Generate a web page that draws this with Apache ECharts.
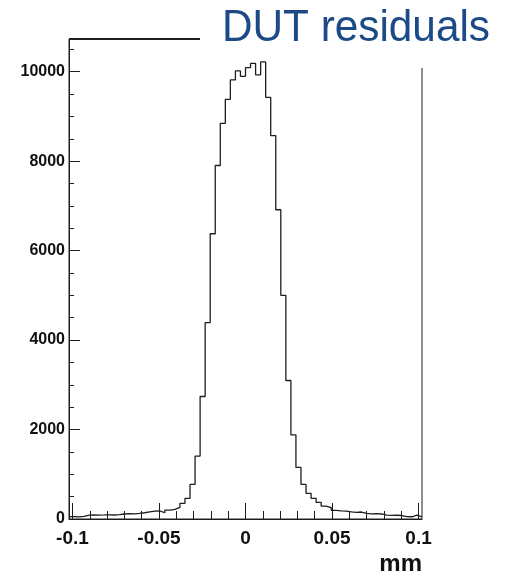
<!DOCTYPE html>
<html>
<head>
<meta charset="utf-8">
<script src="https://cdn.jsdelivr.net/npm/echarts@6/dist/echarts.min.js"></script>
<style>
  html, body { margin: 0; padding: 0; background: #ffffff; }
  #chart { width: 508px; height: 571px; }
</style>
</head>
<body>
<div id="chart"></div>
<script>
// Residual histogram: 70 equal-width bins spanning [binLow, binHigh] (mm)
const binLow = -0.102;
const binHigh = 0.102;
const binCounts = [
  55, 48, 58, 86, 92, 88, 90, 94, 89, 96,
  112, 120, 116, 124, 140, 158, 176, 182, 140, 200,
  217, 261, 350, 462, 774, 1406, 2738, 4390, 6377, 7902,
  8846, 9382, 9815, 10016, 9895, 10089, 10185, 9926, 10217, 9426,
  8571, 6913, 5000, 3096, 1880, 1154, 774, 573, 462, 373,
  290, 252, 192, 183, 178, 160, 150, 156, 124, 115,
  120, 112, 86, 80, 84, 78, 52, 50, 89, 50
];

// Axis tick positions and labels
const xMajorTicks = [-0.1, -0.05, 0, 0.05, 0.1];
const xMinorTicks = [-0.09, -0.08, -0.07, -0.06, -0.04, -0.03, -0.02, -0.01,
                     0.01, 0.02, 0.03, 0.04, 0.06, 0.07, 0.08, 0.09];
const yMajorTicks = [0, 2000, 4000, 6000, 8000, 10000];
const yMinorTicks = [500, 1000, 1500, 2500, 3000, 3500, 4500, 5000, 5500,
                     6500, 7000, 7500, 8500, 9000, 9500, 10500];
const titleText = 'DUT residuals';
const xUnit = 'mm';

// Bin edges -> step-line points (left edge of each bin, plus the closing right edge)
const binWidth = (binHigh - binLow) / binCounts.length;
const stepPoints = binCounts.map((c, i) => [binLow + i * binWidth, c]);
stepPoints.push([binHigh, binCounts[binCounts.length - 1]]);

const ink = '#1e1e1e';
const labelFont = 'Liberation Sans, Arial, sans-serif';

const chart = echarts.init(document.getElementById('chart'), null, { renderer: 'canvas' });

const fmtX = v => String(+Number(v).toFixed(3));
const fmtY = v => String(Math.round(v));

chart.setOption({
  animation: false,
  backgroundColor: '#ffffff',
  grid: {
    left: 69, right: 86, top: 39, bottom: 52,
    containLabel: false, outerBoundsMode: 'none',
    show: true, borderColor: ink, borderWidth: 1, backgroundColor: 'transparent'
  },
  xAxis: [
    {
      type: 'value', min: binLow, max: binHigh, position: 'bottom',
      axisLine: { show: true, onZero: false, lineStyle: { color: ink, width: 1 } },
      axisTick: { show: true, inside: true, length: 16, customValues: xMajorTicks,
                  lineStyle: { color: ink, width: 1 } },
      axisLabel: { show: true, customValues: xMajorTicks, formatter: fmtX, margin: 10,
                   color: '#111', fontSize: 19, fontWeight: 'bold', fontFamily: labelFont },
      splitLine: { show: false },
      name: xUnit, nameLocation: 'end', nameGap: 0,
      nameTextStyle: { color: '#111', fontSize: 24, fontWeight: 'bold', fontFamily: labelFont,
                       align: 'right', verticalAlign: 'top', padding: [33, 0, 0, 0] }
    },
    {
      type: 'value', min: binLow, max: binHigh, position: 'bottom',
      axisLine: { show: false, onZero: false },
      axisTick: { show: true, inside: true, length: 8, customValues: xMinorTicks,
                  lineStyle: { color: ink, width: 1 } },
      axisLabel: { show: false },
      splitLine: { show: false }
    }
  ],
  yAxis: [
    {
      type: 'value', min: 0, max: 10730, position: 'left',
      axisLine: { show: true, onZero: false, lineStyle: { color: ink, width: 1 } },
      axisTick: { show: true, inside: true, length: 11, customValues: yMajorTicks,
                  lineStyle: { color: ink, width: 1 } },
      axisLabel: { show: true, customValues: yMajorTicks, formatter: fmtY, margin: 4,
                   color: '#111', fontSize: 16, fontWeight: 'bold', fontFamily: labelFont },
      splitLine: { show: false }
    },
    {
      type: 'value', min: 0, max: 10730, position: 'left',
      axisLine: { show: false, onZero: false },
      axisTick: { show: true, inside: true, length: 5, customValues: yMinorTicks,
                  lineStyle: { color: ink, width: 1 } },
      axisLabel: { show: false },
      splitLine: { show: false }
    }
  ],
  series: [
    {
      type: 'line', xAxisIndex: 0, yAxisIndex: 0,
      data: stepPoints, step: 'end',
      showSymbol: false, symbol: 'none', clip: true,
      lineStyle: { color: ink, width: 1.3 }
    }
  ],
  graphic: [
    // title panel that sits over the upper-right corner of the frame
    { type: 'polygon', z: 100,
      shape: { points: [[200, 0], [508, 0], [508, 68], [410, 68], [410, 57], [200, 57]] },
      style: { fill: '#ffffff' } },
    // heavier top rule on the visible part of the frame
    { type: 'line', z: 101, shape: { x1: 69, y1: 39, x2: 200, y2: 39 },
      style: { stroke: ink, lineWidth: 2 } },
    { type: 'text', z: 102, x: 222, y: 28.5, scaleX: 0.94,
      style: { x: 0, y: 0, text: titleText, fill: '#1b4a86',
               font: '45px "Liberation Sans", Arial, sans-serif',
               align: 'left', verticalAlign: 'middle' } }
  ]
});
</script>
</body>
</html>
